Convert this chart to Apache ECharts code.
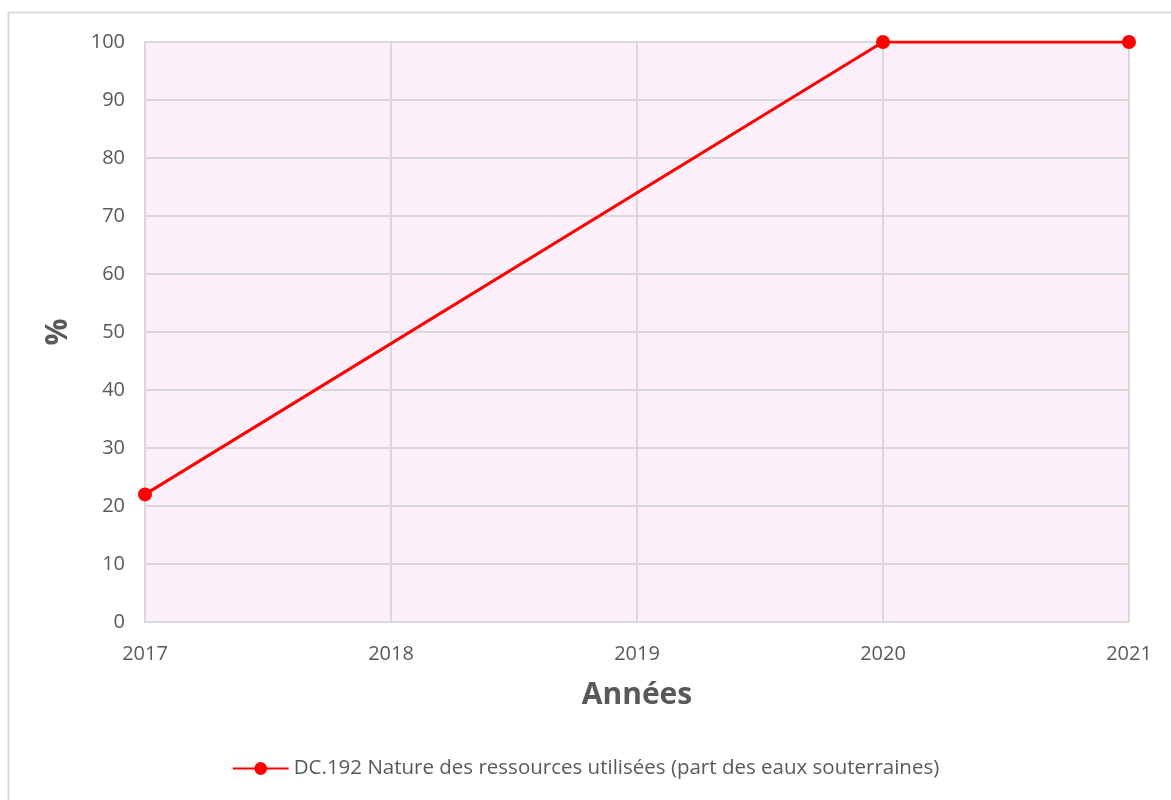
<!DOCTYPE html>
<html>
<head>
<meta charset="utf-8">
<script src="https://cdn.jsdelivr.net/npm/echarts@6/dist/echarts.min.js"></script>
<style>
  html, body { margin: 0; padding: 0; background: #fff; }
  #main { width: 1171px; height: 800px; }
</style>
</head>
<body>
<div id="main"></div>
<script>
// données
const years = [2017, 2020, 2021]
const values = [22, 100, 100]
const seriesName = 'DC.192 Nature des ressources utilisées (part des eaux souterraines)'

const textColor = '#595959'
const gridColor = '#d9d9d9'
const font = '"Open Sans", Lato, sans-serif'

const chart = echarts.init(document.getElementById('main'))
chart.setOption({
  animation: false,
  textStyle: { fontFamily: font },
  graphic: [
    {
      // cadre extérieur
      type: 'rect',
      shape: { x: 8.5, y: 12.5, width: 1180, height: 800 },
      style: { fill: 'none', stroke: '#d9d9d9', lineWidth: 2 },
      silent: true,
    },
  ],
  grid: {
    left: 145,
    right: 42,
    top: 42,
    bottom: 178,
    show: true,
    backgroundColor: '#fdf0fa',
    borderWidth: 0,
  },
  legend: {
    bottom: 16,
    left: 'center',
    itemWidth: 56,
    itemHeight: 16,
    itemGap: 6,
    textStyle: { color: textColor, fontSize: 20.5, fontFamily: font },
    data: [seriesName],
  },
  xAxis: {
    type: 'value',
    min: 2017,
    max: 2021,
    interval: 1,
    name: 'Années',
    nameLocation: 'middle',
    nameGap: 58,
    nameTextStyle: { color: textColor, fontSize: 30, fontWeight: 'bold', fontFamily: font },
    axisLine: { show: true, lineStyle: { color: gridColor, width: 2 } },
    axisTick: { show: false },
    axisLabel: { color: textColor, fontSize: 20, margin: 22, formatter: v => String(v) },
    splitLine: { show: true, lineStyle: { color: gridColor, width: 2 } },
  },
  yAxis: {
    type: 'value',
    min: 0,
    max: 100,
    interval: 10,
    name: '%',
    nameLocation: 'middle',
    nameGap: 72,
    nameRotate: 90,
    nameTextStyle: { color: textColor, fontSize: 30, fontWeight: 'bold', fontFamily: font },
    axisLine: { show: true, lineStyle: { color: gridColor, width: 2 } },
    axisTick: { show: false },
    axisLabel: { color: textColor, fontSize: 20, margin: 20 },
    splitLine: { show: true, lineStyle: { color: gridColor, width: 2 } },
  },
  series: [
    {
      name: seriesName,
      type: 'line',
      data: years.map((y, i) => [y, values[i]]),
      symbol: 'circle',
      symbolSize: 14,
      lineStyle: { color: '#ff0000', width: 3 },
      itemStyle: { color: '#ff0000' },
    },
  ],
})
</script>
</body>
</html>
